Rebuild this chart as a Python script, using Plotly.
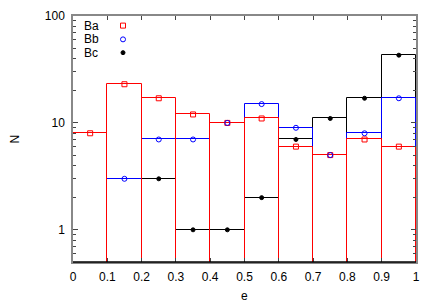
import plotly.graph_objects as go

# Bin centres and counts
bins = [0.05, 0.15, 0.25, 0.35, 0.45, 0.55, 0.65, 0.75, 0.85, 0.95]
Ba = [8, 23, 17, 12, 10, 11, 6, 5, 7, 6]
Bb = [0, 3, 7, 7, 10, 15, 9, 5, 8, 17]
Bc = [0, 0, 3, 1, 1, 2, 7, 11, 17, 43]
series_names = ["Ba", "Bb", "Bc"]
xticks = [0, 0.1, 0.2, 0.3, 0.4, 0.5, 0.6, 0.7, 0.8, 0.9, 1]
xticklabels = ["0", "0.1", "0.2", "0.3", "0.4", "0.5", "0.6", "0.7", "0.8", "0.9", "1"]
yticks = [1, 10, 100]
yticklabels = ["1", "10", "100"]
yminor = [0.5, 0.6, 0.7, 0.8, 0.9, 2, 3, 4, 5, 6, 7, 8, 9, 20, 30, 40, 50, 60, 70, 80, 90]

colors = ["#ff0000", "#0000ff", "#000000"]
symbols = ["square-open", "circle-open", "circle"]
sizes = [5, 5, 4]
legend_ids = ["legend", "legend2", "legend3"]
data = [Ba, Bb, Bc]

fig = go.Figure()
# outlines: draw black first, red last so red edges stay visible
for idx in [2, 1, 0]:
    vals, col = data[idx], colors[idx]
    xs = [b for b, v in zip(bins, vals) if v > 0]
    ys = [v for v in vals if v > 0]
    fig.add_trace(go.Bar(x=xs, y=ys, width=0.1, marker=dict(color="rgba(0,0,0,0)",
                         line=dict(color=col, width=1)), showlegend=False, hoverinfo="skip"))
for name, vals, col, sym, sz, lg in zip(series_names, data, colors, symbols, sizes, legend_ids):
    xs = [b for b, v in zip(bins, vals) if v > 0]
    ys = [v for v in vals if v > 0]
    fig.add_trace(go.Scatter(x=xs, y=ys, mode="markers", name=" ", legend=lg,
                             marker=dict(symbol=sym, color=col, size=sz, line=dict(color=col, width=1))))

font = dict(family="Liberation Sans, Arial, sans-serif", size=12, color="#000")
row_y = [0.961, 0.905, 0.851]
leg = {}
for lg, yy in zip(legend_ids, row_y):
    leg[lg] = dict(x=0.0875, y=yy, xanchor="left", yanchor="middle", bgcolor="rgba(0,0,0,0)",
                   font=dict(size=9), itemwidth=30)

fig.update_layout(
    width=436, height=305, margin=dict(l=73, r=20, t=16, b=43, autoexpand=False),
    plot_bgcolor="white", paper_bgcolor="white", barmode="overlay", bargap=0,
    font=font, showlegend=True,
    xaxis=dict(range=[0, 1], tickvals=xticks, ticktext=xticklabels, ticks="inside", ticklen=4,
               tickcolor="#444",
               showline=True, mirror="allticks", linecolor="#888", linewidth=1.5, showgrid=False,
               zeroline=False, automargin=False, ticklabelstandoff=3),
    yaxis=dict(type="log", range=[-0.30103, 2], tickvals=yticks, ticktext=yticklabels,
               ticks="inside", ticklen=5, tickcolor="#444", showline=True, mirror="allticks",
               linecolor="#888", linewidth=1.5, showgrid=False, zeroline=False, automargin=False,
               ticklabelstandoff=4,
               minor=dict(tickvals=yminor, ticks="inside", ticklen=3, tickcolor="#444")),
    **leg,
)
# darker bottom axis line as in the reference
fig.add_shape(type="line", xref="paper", yref="paper", x0=0, x1=1, y0=0, y1=0,
              line=dict(color="#000", width=1.5))
for i, name in enumerate(series_names):
    fig.add_annotation(text=name, xref="paper", yref="paper", x=0.025, y=row_y[i],
                       xanchor="left", yanchor="middle", showarrow=False, font=font)
fig.add_annotation(text="N", xref="paper", yref="paper", x=-0.168, y=0.5, textangle=-90,
                   xanchor="center", yanchor="middle", showarrow=False, font=font)
fig.add_annotation(text="e", xref="paper", yref="paper", x=0.5, y=-0.138,
                   xanchor="center", yanchor="middle", showarrow=False, font=font)

fig.write_html("out.html", config={"displayModeBar": False},
               post_script="document.body.style.margin='0';")
